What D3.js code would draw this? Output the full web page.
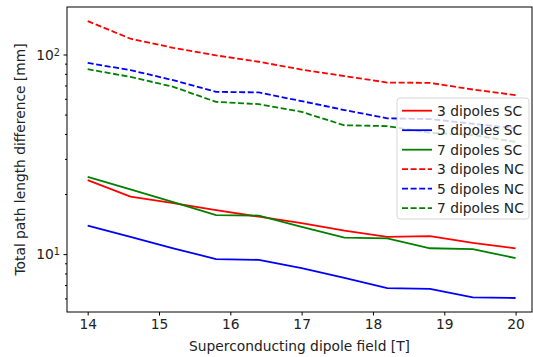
<!DOCTYPE html>
<html>
<head>
<meta charset="utf-8">
<script src="https://cdn.jsdelivr.net/npm/d3@7"></script>
<style>
  body { margin: 0; background: #fff; }
  text { font-family: "DejaVu Sans", sans-serif; fill: #222; }
</style>
</head>
<body>
<script>
// field values [T]
const fields = [14, 14.6, 15.2, 15.8, 16.4, 17, 17.6, 18.2, 18.8, 19.4, 20];

// path length difference [mm]
const sc3 = [23.5, 19.4, 18.0, 16.6, 15.4, 14.3, 13.1, 12.2, 12.3, 11.4, 10.7];
const sc5 = [13.9, 12.2, 10.7, 9.45, 9.36, 8.5, 7.6, 6.75, 6.7, 6.07, 6.03];
const sc7 = [24.4, 21.1, 18.2, 15.7, 15.6, 13.7, 12.1, 12.0, 10.7, 10.6, 9.55];
const nc3 = [147, 120, 108, 99, 92, 84, 78, 72.4, 72.1, 66.8, 62.6];
const nc5 = [90.8, 83.5, 74.4, 65, 64.6, 58.4, 52.7, 47.9, 47.5, 45, 42.7];
const nc7 = [84.4, 77.3, 68.9, 57.9, 56.4, 51.6, 44.2, 43.8, 40.5, 39.5, 36.5];

const xTicks = [14, 15, 16, 17, 18, 19, 20];
const yMajor = [10, 100];
const yMinor = [6, 7, 8, 9, 20, 30, 40, 50, 60, 70, 80, 90];

const series = [
  {name: "3 dipoles SC", values: sc3, color: "#ff0000", dash: null},
  {name: "5 dipoles SC", values: sc5, color: "#0000ff", dash: null},
  {name: "7 dipoles SC", values: sc7, color: "#008000", dash: null},
  {name: "3 dipoles NC", values: nc3, color: "#ff0000", dash: "6,2.6"},
  {name: "5 dipoles NC", values: nc5, color: "#0000ff", dash: "6,2.6"},
  {name: "7 dipoles NC", values: nc7, color: "#008000", dash: "6,2.6"}
];

const fs = 13.8;
const W = 533, H = 357;
const margin = {top: 7, right: 1, bottom: 45, left: 67};
const width = W - margin.left - margin.right,
      height = H - margin.top - margin.bottom;

const svg = d3.select("body").append("svg")
  .attr("width", W).attr("height", H);

const g = svg.append("g")
  .attr("transform", "translate(" + margin.left + "," + margin.top + ")");

const x = d3.scaleLinear().domain([13.71, 20.23]).range([0, width]);
const y = d3.scaleLog().domain([5.13, 173]).range([height, 0]);

// lines
const line = d3.line()
  .x((d, i) => x(fields[i]))
  .y(d => y(d));

series.forEach(s => {
  g.append("path")
    .datum(s.values)
    .attr("fill", "none")
    .attr("stroke", s.color)
    .attr("stroke-width", 1.8)
    .attr("stroke-dasharray", s.dash)
    .attr("d", line);
});

// frame
g.append("rect")
  .attr("width", width).attr("height", height)
  .attr("fill", "none").attr("stroke", "#000").attr("stroke-width", 1);

// x axis
const xAxis = g.append("g")
  .attr("transform", "translate(0," + height + ")")
  .call(d3.axisBottom(x).tickValues(xTicks).tickSize(3.5).tickPadding(4).tickFormat(d3.format("d")));
xAxis.select(".domain").remove();
xAxis.selectAll("text").attr("font-size", fs).attr("fill", "#222");

// y axis, major
const yAxis = g.append("g")
  .call(d3.axisLeft(y).tickValues(yMajor).tickSize(3.5).tickFormat(""));
yAxis.select(".domain").remove();
yAxis.selectAll(".tick").each(function(d) {
  const t = d3.select(this).append("text")
    .attr("x", -7).attr("dy", "0.35em")
    .attr("text-anchor", "end").attr("font-size", fs);
  t.append("tspan").text("10");
  t.append("tspan").attr("dy", "-0.45em").attr("font-size", fs * 0.7).text(Math.round(Math.log10(d)));
});

// y axis, minor
const yMin = g.append("g")
  .call(d3.axisLeft(y).tickValues(yMinor).tickSize(2).tickFormat(""));
yMin.select(".domain").remove();

// axis labels
svg.append("text")
  .attr("x", margin.left + width / 2).attr("y", 351)
  .attr("text-anchor", "middle").attr("font-size", fs)
  .text("Superconducting dipole field [T]");

svg.append("text")
  .attr("transform", "translate(25," + (margin.top + height / 2) + ") rotate(-90)")
  .attr("text-anchor", "middle").attr("font-size", fs)
  .text("Total path length difference [mm]");

// legend
const lg = svg.append("g").attr("transform", "translate(397,98)");
lg.append("rect")
  .attr("width", 132).attr("height", 121).attr("rx", 3)
  .attr("fill", "#fff").attr("fill-opacity", 0.8)
  .attr("stroke", "#ccc").attr("stroke-opacity", 0.8);

series.forEach((s, i) => {
  const row = lg.append("g").attr("transform", "translate(0," + (12.7 + i * 19.5) + ")");
  row.append("line")
    .attr("x1", 5).attr("x2", 35)
    .attr("stroke", s.color).attr("stroke-width", 1.8)
    .attr("stroke-dasharray", s.dash);
  row.append("text")
    .attr("x", 40).attr("dy", "0.35em").attr("font-size", fs)
    .text(s.name);
});
</script>
</body>
</html>
